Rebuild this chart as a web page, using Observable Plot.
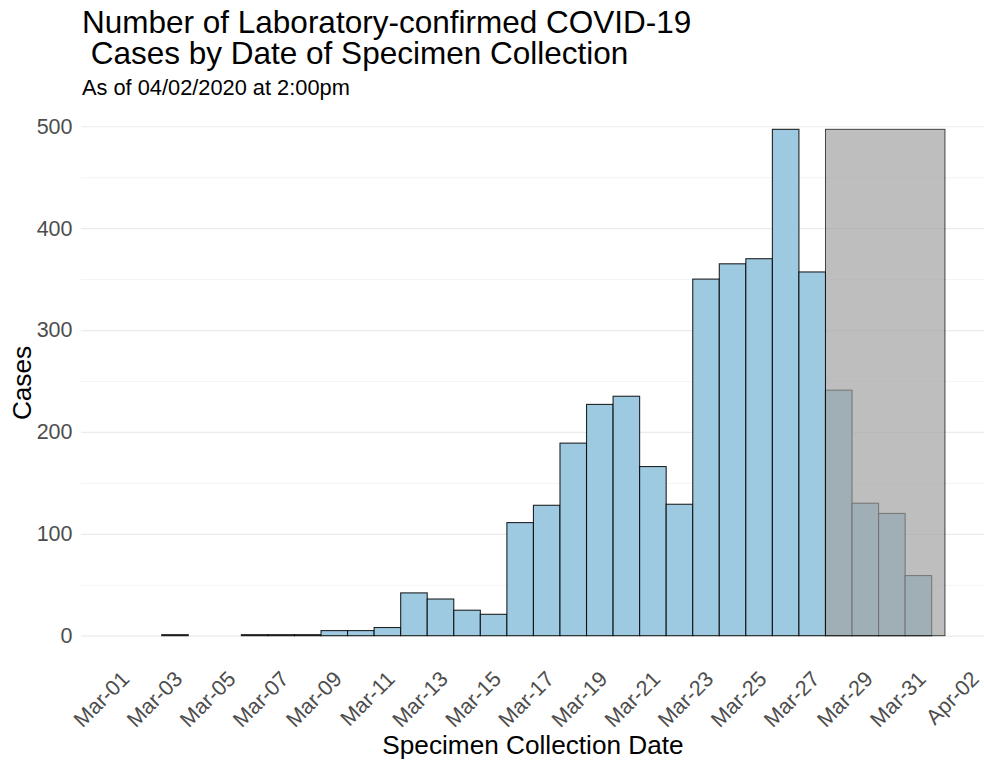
<!DOCTYPE html>
<html>
<head>
<meta charset="utf-8">
<script src="https://cdn.jsdelivr.net/npm/d3@7"></script>
<script src="https://cdn.jsdelivr.net/npm/@observablehq/plot@0.6"></script>
<style>
  html, body { margin: 0; padding: 0; background: #fff; }
  body { width: 984px; height: 761px; position: relative; overflow: hidden; font-family: "Liberation Sans", Arial, sans-serif; }
  #chart { position: absolute; left: 0; top: 0; }
  .title { position: absolute; left: 82px; top: 7px; font-size: 31.5px; line-height: 31px; color: #000; white-space: pre; }
  .subtitle { position: absolute; left: 82px; top: 77px; font-size: 21.8px; line-height: 21.5px; color: #000; white-space: pre; }
</style>
</head>
<body>
<div id="chart"></div>
<div class="title">Number of Laboratory-confirmed COVID-19
 Cases by Date of Specimen Collection</div>
<div class="subtitle">As of 04/02/2020 at 2:00pm</div>
<script>
// ---- data ----
const dates = ["2020-03-03","2020-03-06","2020-03-07","2020-03-08","2020-03-09","2020-03-10","2020-03-11",
  "2020-03-12","2020-03-13","2020-03-14","2020-03-15","2020-03-16","2020-03-17","2020-03-18","2020-03-19",
  "2020-03-20","2020-03-21","2020-03-22","2020-03-23","2020-03-24","2020-03-25","2020-03-26","2020-03-27",
  "2020-03-28","2020-03-29","2020-03-30","2020-03-31"];
const cases = [1,1,1,1,5,5,8,42,36,25,21,111,128,189,227,235,166,129,350,365,370,497,357,241,130,120,59];

const tickDates = ["2020-03-01","2020-03-03","2020-03-05","2020-03-07","2020-03-09","2020-03-11","2020-03-13",
  "2020-03-15","2020-03-17","2020-03-19","2020-03-21","2020-03-23","2020-03-25","2020-03-27","2020-03-29",
  "2020-03-31","2020-04-02"];
const tickLabels = ["Mar-01","Mar-03","Mar-05","Mar-07","Mar-09","Mar-11","Mar-13","Mar-15","Mar-17",
  "Mar-19","Mar-21","Mar-23","Mar-25","Mar-27","Mar-29","Mar-31","Apr-02"];
const yTicks = [0, 100, 200, 300, 400, 500];
const yMinorTicks = [50, 150, 250, 350, 450];

// window of incomplete data (shaded)
const incompleteStart = "2020-03-27T12:00:00Z";
const incompleteEnd = "2020-04-01T00:00:00Z";

// ---- build tables ----
const DAY = 864e5;
const bars = dates.map((d, i) => {
  const t = new Date(d + "T00:00:00Z");
  return {x1: new Date(+t - DAY / 2), x2: new Date(+t + DAY / 2), y: cases[i]};
});
const yMax = d3.max(cases);
const ticks = tickDates.map((d, i) => ({date: new Date(d + "T00:00:00Z"), label: tickLabels[i]}));
const shade = [{x1: new Date(incompleteStart), x2: new Date(incompleteEnd), y1: 0, y2: yMax}];

const font = "'Liberation Sans', Arial, sans-serif";

const chart = Plot.plot({
  width: 984,
  height: 761,
  marginLeft: 81,
  marginRight: 0,
  marginTop: 104,
  marginBottom: 100,
  style: {fontFamily: font, background: "#fff", overflow: "visible"},
  x: {type: "utc", domain: [new Date("2020-02-28T11:02:00Z"), new Date("2020-04-02T11:17:00Z")], axis: null},
  y: {domain: [-yMax * 0.05, yMax * 1.05], axis: null},
  marks: [
    Plot.gridY(yMinorTicks, {stroke: "#ebebeb", strokeOpacity: 1, strokeWidth: 0.6}),
    Plot.gridY(yTicks, {stroke: "#ebebeb", strokeOpacity: 1, strokeWidth: 1.2}),
    Plot.rectY(bars, {x1: "x1", x2: "x2", y: "y", fill: "#9ecae1", stroke: "#000", strokeWidth: 1.1, strokeOpacity: 0.85}),
    Plot.rect(shade, {x1: "x1", x2: "x2", y1: "y1", y2: "y2", fill: "#a1a1a1", fillOpacity: 0.69, stroke: "#000", strokeOpacity: 0.7, strokeWidth: 1}),
    Plot.axisY(yTicks, {tickSize: 0, tickPadding: 9, fontSize: 21.5, fill: "#4d4d4d", label: null}),
    Plot.text(ticks, {x: "date", text: "label", frameAnchor: "bottom", dx: -2.5, dy: 8, rotate: -45,
      textAnchor: "end", lineAnchor: "top", fontSize: 21.5, fill: "#4d4d4d"}),
    Plot.text(["Specimen Collection Date"], {frameAnchor: "bottom", dy: 92, lineAnchor: "bottom", fontSize: 26.2, fill: "#000"}),
    Plot.text(["Cases"], {frameAnchor: "left", dx: -59, rotate: -90, lineAnchor: "middle", textAnchor: "middle", fontSize: 26.2, fill: "#000"})
  ]
});
document.getElementById("chart").appendChild(chart);
</script>
</body>
</html>
